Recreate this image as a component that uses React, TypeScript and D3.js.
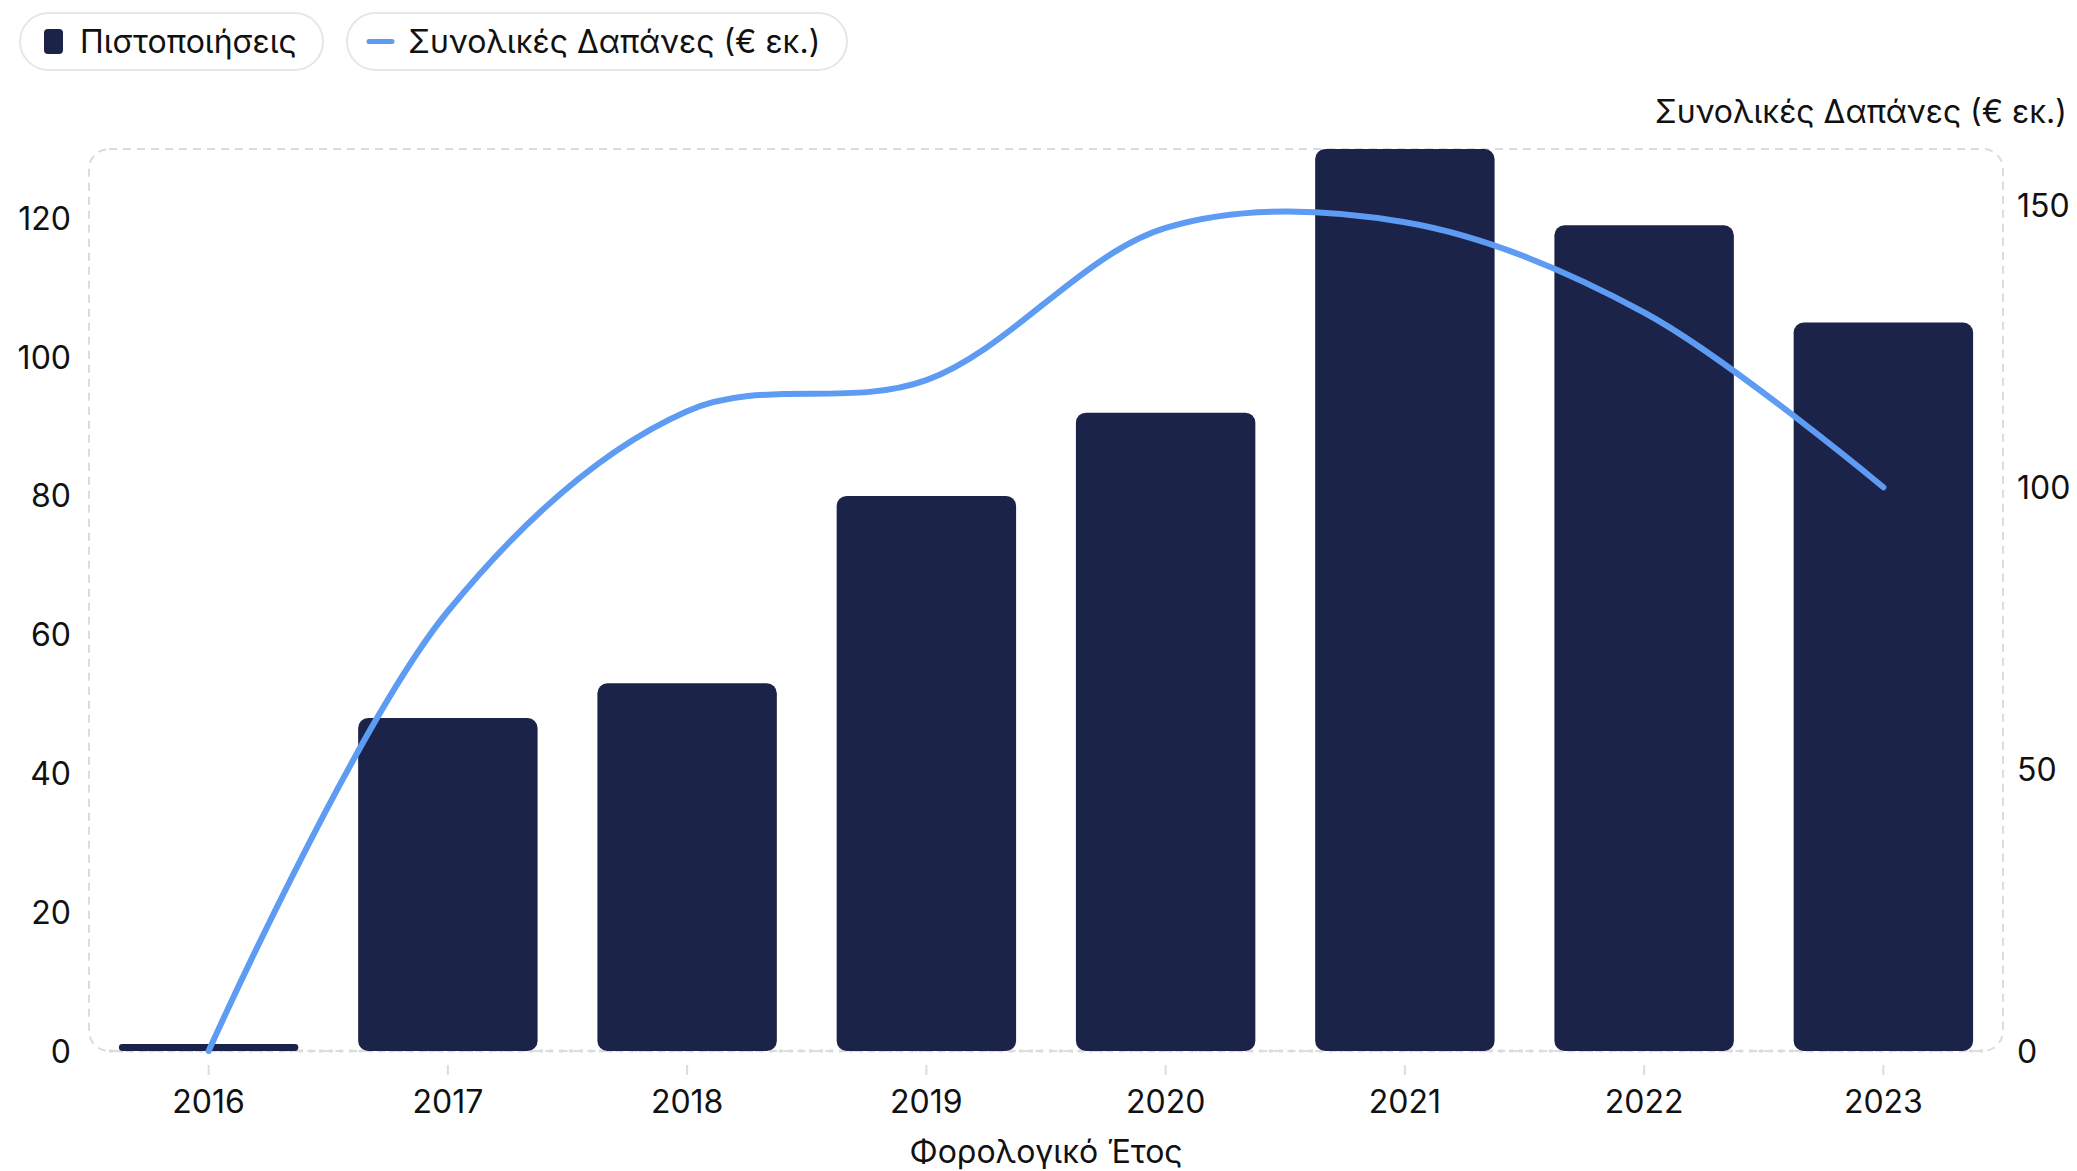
import { useEffect } from 'react'
import * as d3 from 'd3'

const years = ['2016', '2017', '2018', '2019', '2020', '2021', '2022', '2023']
const certificates = [1, 48, 53, 80, 92, 130, 119, 105]
const spending = [0, 78, 113.5, 119, 146, 147, 131, 100]
const leftTicks = [0, 20, 40, 60, 80, 100, 120]
const rightTicks = [0, 50, 100, 150]

const BAR_LABEL = 'Πιστοποιήσεις'
const LINE_LABEL = 'Συνολικές Δαπάνες (€ εκ.)'
const X_TITLE = 'Φορολογικό Έτος'

const W = 2077
const H = 1171
const plot = { left: 89, right: 2003, top: 149, bottom: 1051 }
const BAR_COLOR = '#1b2349'
const LINE_COLOR = '#5e9bf2'
const GRID = '#dcdcdc'
const FONT = 'Inter, "Noto Sans", sans-serif'

export default function App() {
  useEffect(() => {
    document.body.style.margin = '0'
  }, [])

  const x = d3.scaleBand<string>()
    .domain(years)
    .range([plot.left, plot.right])
    .paddingInner(0.25)
    .paddingOuter(0.125)

  const yLeft = d3.scaleLinear().domain([0, 130]).range([plot.bottom, plot.top])
  const yRight = d3.scaleLinear().domain([0, 160]).range([plot.bottom, plot.top])

  const cx = (d: string) => (x(d) ?? 0) + x.bandwidth() / 2

  const line = d3.line<number>()
    .x((_, i) => cx(years[i]))
    .y((d) => yRight(d))
    .curve(d3.curveCatmullRom)

  return (
    <svg width={W} height={H} style={{ display: 'block', background: '#fff' }} fontFamily={FONT}>
      {/* legend chips */}
      <g>
        <rect x={20} y={13} width={303} height={57} rx={28.5} fill="#fff" stroke="#e6e6e6" strokeWidth={2} />
        <rect x={44} y={29} width={19} height={25} rx={4} fill={BAR_COLOR} />
        <text x={80} y={53} fontSize={32} fill="#111">{BAR_LABEL}</text>

        <rect x={347} y={13} width={500} height={57} rx={28.5} fill="#fff" stroke="#e6e6e6" strokeWidth={2} />
        <line x1={369} x2={392} y1={41.5} y2={41.5} stroke={LINE_COLOR} strokeWidth={5} strokeLinecap="round" />
        <text x={408} y={53} fontSize={32} fill="#111">{LINE_LABEL}</text>
      </g>

      {/* right axis title */}
      <text x={2067} y={123} textAnchor="end" fontSize={32} fill="#111">{LINE_LABEL}</text>

      {/* dashed plot frame */}
      <rect
        x={plot.left}
        y={plot.top}
        width={plot.right - plot.left}
        height={plot.bottom - plot.top}
        rx={20}
        fill="none"
        stroke={GRID}
        strokeWidth={2}
        strokeDasharray="8 6"
      />
      <line x1={plot.left + 20} x2={plot.right - 20} y1={plot.bottom} y2={plot.bottom} stroke={GRID} strokeWidth={3} strokeDasharray="4 6" />

      {/* bars */}
      {years.map((yr, i) => {
        const top = yLeft(certificates[i])
        const h = plot.bottom - top
        return (
          <rect
            key={yr}
            x={x(yr)}
            y={top}
            width={x.bandwidth()}
            height={h}
            rx={Math.min(10, h / 2)}
            fill={BAR_COLOR}
          />
        )
      })}

      {/* spending line */}
      <path d={line(spending) ?? ''} fill="none" stroke={LINE_COLOR} strokeWidth={6} strokeLinecap="round" strokeLinejoin="round" />

      {/* x axis */}
      {years.map((yr) => (
        <g key={yr} transform={`translate(${cx(yr)},0)`}>
          <line y1={plot.bottom + 14} y2={plot.bottom + 24} stroke={GRID} strokeWidth={2} />
          <text y={1113} textAnchor="middle" fontSize={32} fill="#111">{yr}</text>
        </g>
      ))}
      <text x={(plot.left + plot.right) / 2} y={1163} textAnchor="middle" fontSize={32} fill="#111">{X_TITLE}</text>

      {/* left axis */}
      {leftTicks.map((t) => (
        <text key={t} x={71} y={yLeft(t)} dy="0.36em" textAnchor="end" fontSize={32} fill="#111">{t}</text>
      ))}

      {/* right axis */}
      {rightTicks.map((t) => (
        <text key={t} x={2017} y={yRight(t)} dy="0.36em" textAnchor="start" fontSize={32} fill="#111">{t}</text>
      ))}
    </svg>
  )
}
